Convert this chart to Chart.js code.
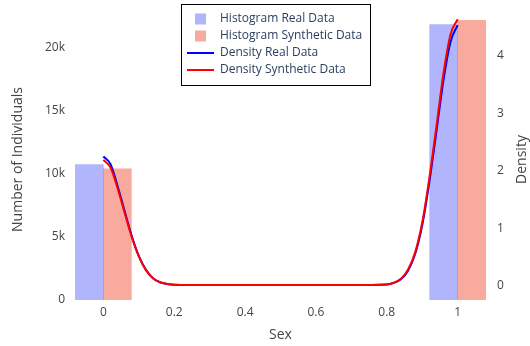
<!DOCTYPE html>
<html>
<head>
<meta charset="utf-8">
<script src="https://cdn.jsdelivr.net/npm/chart.js@4"></script>
<style>
  html, body { margin: 0; padding: 0; background: #fff; }
  #wrap { width: 530px; height: 346px; }
</style>
</head>
<body>
<div id="wrap"><canvas id="sexChart" width="530" height="346"></canvas></div>
<script>
// histogram counts per category (Sex = 0 / 1)
const sexCategories = [0, 1];
const histReal = [10740, 21820];
const histSynthetic = [10400, 22170];

// density curves
const densityX = [0, 0.02, 0.04, 0.06, 0.08, 0.10, 0.12, 0.14, 0.16, 0.18, 0.20, 0.30, 0.40, 0.50, 0.60, 0.70,
    0.80, 0.82, 0.84, 0.86, 0.88, 0.90, 0.92, 0.94, 0.96, 0.98, 1.00];
const densityReal = [2.25, 2.12, 1.74, 1.30, 0.87, 0.52, 0.28, 0.13, 0.06, 0.03, 0.015, 0.01, 0.01, 0.01, 0.01, 0.01,
    0.02, 0.05, 0.11, 0.26, 0.55, 1.05, 1.80, 2.68, 3.58, 4.25, 4.54];
const densitySynthetic = [2.19, 2.06, 1.70, 1.27, 0.85, 0.51, 0.27, 0.13, 0.06, 0.03, 0.015, 0.01, 0.01, 0.01, 0.01, 0.01,
    0.02, 0.05, 0.12, 0.28, 0.58, 1.10, 1.87, 2.77, 3.70, 4.38, 4.64];

// axis ticks
const xTicks = [0, 0.2, 0.4, 0.6, 0.8, 1];
const countTicks = [0, 5000, 10000, 15000, 20000];
const densityTicks = [0, 1, 2, 3, 4];

const tickFont = { family: '"Open Sans", sans-serif', size: 12 };
const titleFont = { family: '"Open Sans", sans-serif', size: 14 };

function toPoints(xs, ys) {
    return xs.map((x, i) => ({ x: x, y: ys[i] }));
}

// boxed legend on top of the plot + right axis title reading upwards
const boxLegend = {
    id: 'boxLegend',
    afterDraw(chart) {
        const ctx = chart.ctx;
        const area = chart.chartArea;
        ctx.save();
        ctx.font = '14px "Open Sans", sans-serif';
        ctx.fillStyle = '#444';
        ctx.textAlign = 'center';
        ctx.textBaseline = 'middle';
        ctx.translate(522, (area.top + area.bottom) / 2);
        ctx.rotate(-Math.PI / 2);
        ctx.fillText('Density', 0, 0);
        ctx.restore();

        const x0 = 181.5, y0 = 4.5, w = 189, h = 81;
        ctx.save();
        ctx.fillStyle = '#fff';
        ctx.fillRect(x0, y0, w, h);
        ctx.strokeStyle = '#000';
        ctx.lineWidth = 1;
        ctx.strokeRect(x0, y0, w, h);
        ctx.font = '12px "Open Sans", sans-serif';
        ctx.textBaseline = 'middle';
        const rows = [19, 36, 53, 70];
        chart.data.datasets.forEach((ds, i) => {
            const y = rows[i];
            if (ds.type === 'line') {
                ctx.strokeStyle = ds.borderColor;
                ctx.lineWidth = 2;
                ctx.beginPath();
                ctx.moveTo(187, y);
                ctx.lineTo(214, y);
                ctx.stroke();
            } else {
                ctx.fillStyle = ds.backgroundColor;
                ctx.fillRect(195, y - 5.5, 11, 11);
            }
            ctx.fillStyle = '#2a3f5f';
            ctx.fillText(ds.label, 220, y);
        });
        ctx.restore();
    }
};

new Chart(document.getElementById('sexChart'), {
    type: 'bar',
    data: {
        datasets: [
            {
                label: 'Histogram Real Data',
                data: toPoints(sexCategories, histReal),
                backgroundColor: 'rgba(99,110,250,0.5)',
                borderWidth: 0,
                barThickness: 28,
                yAxisID: 'y',
                order: 2
            },
            {
                label: 'Histogram Synthetic Data',
                data: toPoints(sexCategories, histSynthetic),
                backgroundColor: 'rgba(239,85,59,0.5)',
                borderWidth: 0,
                barThickness: 28,
                yAxisID: 'y',
                order: 3
            },
            {
                type: 'line',
                label: 'Density Real Data',
                data: toPoints(densityX, densityReal),
                borderColor: 'blue',
                borderWidth: 2,
                pointRadius: 0,
                cubicInterpolationMode: 'monotone',
                yAxisID: 'y1',
                order: 1
            },
            {
                type: 'line',
                label: 'Density Synthetic Data',
                data: toPoints(densityX, densitySynthetic),
                borderColor: 'red',
                borderWidth: 2,
                pointRadius: 0,
                cubicInterpolationMode: 'monotone',
                yAxisID: 'y1',
                order: 0
            }
        ]
    },
    options: {
        responsive: false,
        animation: false,
        layout: { padding: { top: 19, left: 0, right: 0, bottom: 0 } },
        plugins: {
            legend: { display: false },
            tooltip: { enabled: false }
        },
        scales: {
            x: {
                type: 'linear',
                offset: false,
                min: -0.08,
                max: 1.08,
                grid: { display: false, drawTicks: false },
                border: { display: false },
                afterBuildTicks: (scale) => { scale.ticks = xTicks.map(v => ({ value: v })); },
                afterFit: (scale) => { scale.height = 46; },
                ticks: {
                    font: tickFont,
                    color: '#444',
                    padding: 5,
                    maxRotation: 0,
                    callback: (v) => String(v)
                },
                title: {
                    display: true,
                    text: 'Sex',
                    font: titleFont,
                    color: '#444',
                    padding: { top: 0, bottom: 3 }
                }
            },
            y: {
                position: 'left',
                min: 0,
                max: 22270,
                grid: { display: false, drawTicks: false },
                border: { display: false },
                afterBuildTicks: (scale) => { scale.ticks = countTicks.map(v => ({ value: v })); },
                afterFit: (scale) => { scale.width = 75; },
                ticks: {
                    font: tickFont,
                    color: '#444',
                    padding: 10,
                    callback: (v) => v === 0 ? '0' : (v / 1000) + 'k'
                },
                title: {
                    display: true,
                    text: 'Number of Individuals',
                    font: titleFont,
                    color: '#444',
                    padding: { top: 10, bottom: 0 }
                }
            },
            y1: {
                position: 'right',
                min: -0.25,
                max: 4.645,
                grid: { display: false, drawTicks: false },
                border: { display: false },
                afterBuildTicks: (scale) => { scale.ticks = densityTicks.map(v => ({ value: v })); },
                afterFit: (scale) => { scale.width = 44; },
                ticks: {
                    font: tickFont,
                    color: '#444',
                    padding: 11,
                    callback: (v) => String(v)
                }
            }
        }
    },
    plugins: [boxLegend]
});
</script>
</body>
</html>
